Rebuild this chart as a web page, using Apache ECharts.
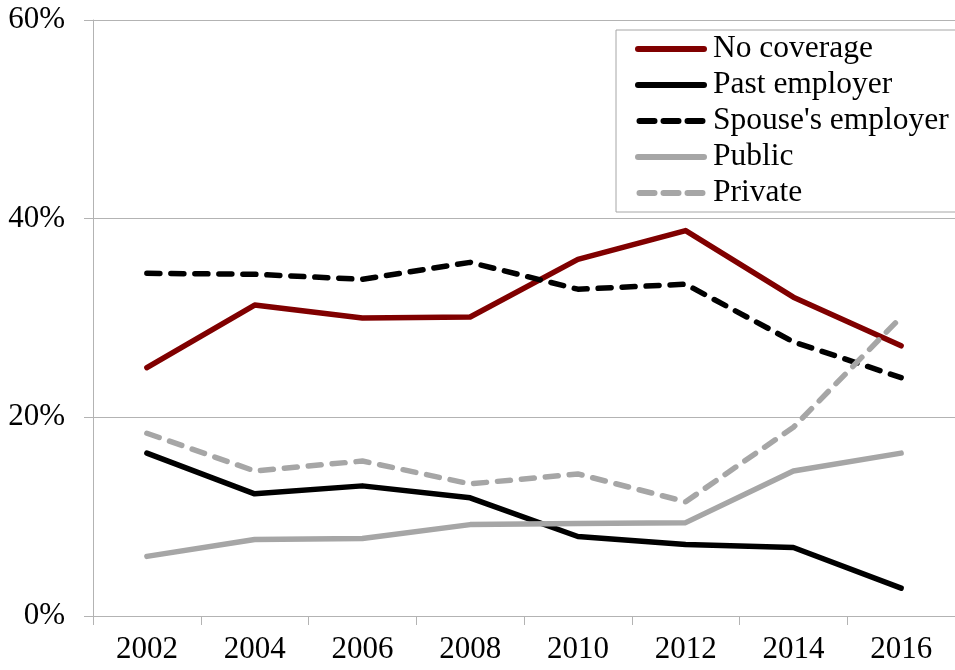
<!DOCTYPE html>
<html>
<head>
<meta charset="utf-8">
<script src="https://cdn.jsdelivr.net/npm/echarts@6/dist/echarts.min.js"></script>
<style>html,body{margin:0;padding:0;background:#fff}#c{width:955px;height:670px}</style>
</head>
<body>
<div id="c"></div>
<script>
var years = ['2002','2004','2006','2008','2010','2012','2014','2016'];
var noCoverage = [25.0, 31.3, 30.0, 30.1, 35.9, 38.8, 32.1, 27.2];
var pastEmployer = [16.4, 12.3, 13.1, 11.9, 8.0, 7.2, 6.9, 2.8];
var spouseEmployer = [34.5, 34.4, 33.9, 35.6, 32.9, 33.4, 27.6, 24.0];
var publicCov = [6.0, 7.7, 7.8, 9.2, 9.3, 9.4, 14.6, 16.4];
var privateCov = [18.4, 14.6, 15.6, 13.3, 14.3, 11.5, 19.0, 30.1];
var yTicks = [0, 20, 40, 60];

var FONT = '"Liberation Serif", "Times New Roman", serif';
var GRAY = '#a6a6a6';
var AXIS = '#b3b3b3';
var ICON_SOLID = 'path://M3,0H69A3,3,0,0,1,69,6H3A3,3,0,0,1,3,0Z';
var ICON_DASH = 'path://M3,0H18A3,3,0,0,1,18,6H3A3,3,0,0,1,3,0Z M27,0H42A3,3,0,0,1,42,6H27A3,3,0,0,1,27,0Z M51,0H66A3,3,0,0,1,66,6H51A3,3,0,0,1,51,0Z';

function mk(name, data, color, dashed) {
  return {
    name: name, type: 'line', data: data, symbol: 'none', smooth: false,
    lineStyle: {color: color, width: 5.5, type: dashed ? [13, 11] : 'solid', cap: 'round', join: 'round'},
    itemStyle: {color: color, borderWidth: 0}
  };
}

var chart = echarts.init(document.getElementById('c'), null, {renderer: 'canvas'});
chart.setOption({
  animation: false,
  backgroundColor: '#fff',
  grid: {left: 93, top: 20, width: 871, bottom: 54, containLabel: false},
  legend: {
    orient: 'vertical', left: 616, top: 30,
    padding: [3, 80, 3, 19],
    borderColor: GRAY, borderWidth: 1,
    itemWidth: 72, itemHeight: 6, itemGap: 4,
    itemStyle: {borderWidth: 0},
    textStyle: {fontFamily: FONT, fontSize: 31.5, color: '#000', lineHeight: 31, padding: [0,0,0,1]},
    data: [
      {name: 'No coverage', icon: ICON_SOLID},
      {name: 'Past employer', icon: ICON_SOLID},
      {name: "Spouse's employer", icon: ICON_DASH},
      {name: 'Public', icon: ICON_SOLID},
      {name: 'Private', icon: ICON_DASH}
    ]
  },
  xAxis: {
    type: 'category', data: years, boundaryGap: true,
    axisLine: {lineStyle: {color: AXIS, width: 1}},
    axisTick: {show: true, length: 9, lineStyle: {color: AXIS}},
    axisLabel: {fontFamily: FONT, fontSize: 31, color: '#000', margin: 18}
  },
  yAxis: {
    type: 'value', min: yTicks[0], max: yTicks[yTicks.length-1], interval: 20,
    axisLine: {show: true, lineStyle: {color: AXIS, width: 1}},
    axisTick: {show: true, length: 9, lineStyle: {color: AXIS}},
    splitLine: {show: true, lineStyle: {color: AXIS, width: 1}},
    axisLabel: {fontFamily: FONT, fontSize: 31, color: '#000', margin: 28, formatter: '{value}%'}
  },
  series: [
    mk('No coverage', noCoverage, '#800000', false),
    mk('Past employer', pastEmployer, '#000000', false),
    mk("Spouse's employer", spouseEmployer, '#000000', true),
    mk('Public', publicCov, GRAY, false),
    mk('Private', privateCov, GRAY, true)
  ]
});
</script>
</body>
</html>
